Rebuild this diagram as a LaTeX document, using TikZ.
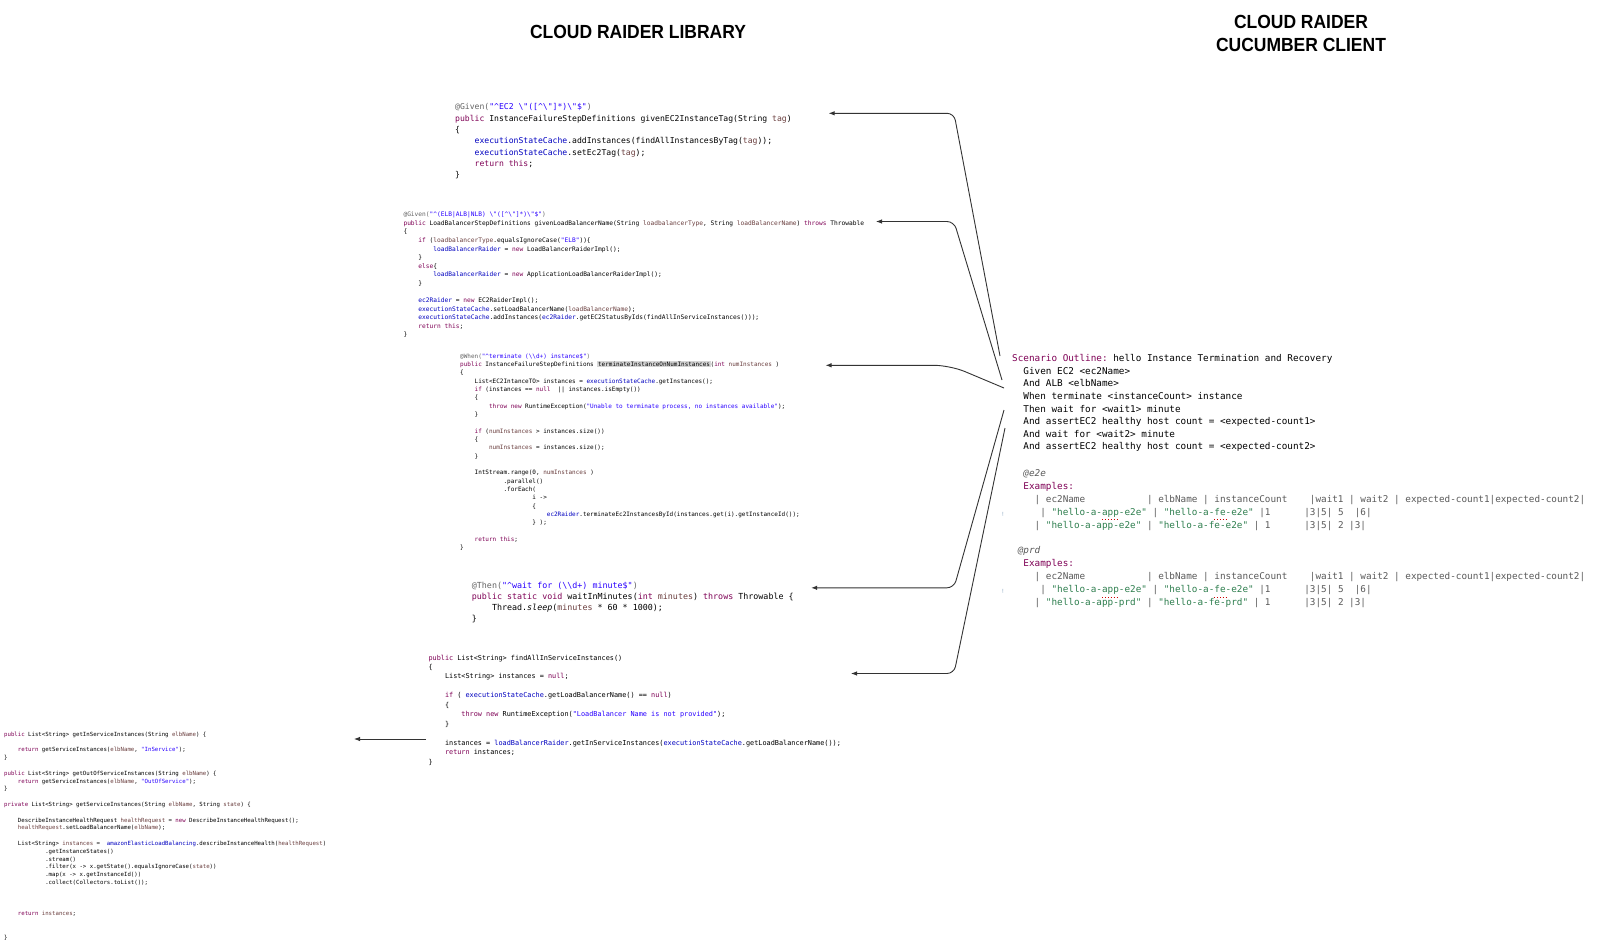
\documentclass[tikz,border=0pt]{standalone}
\usepackage{fontspec}
\setmainfont{Liberation Sans}
\setmonofont{DejaVu Sans Mono}
\usepackage{graphicx}
\usetikzlibrary{arrows.meta}
\definecolor{kwpurple}{HTML}{7F0055}
\definecolor{fldblue}{HTML}{0000C0}
\definecolor{strblue}{HTML}{2A00FF}
\definecolor{anngray}{HTML}{646464}
\definecolor{prmbrown}{HTML}{6A3E3E}
\definecolor{tblgray}{HTML}{5A5A5A}
\definecolor{tblgreen}{HTML}{2F7F4F}
\definecolor{hlgray}{HTML}{D6D6D6}
\definecolor{warnblue}{HTML}{8AA6C1}
\definecolor{linegray}{HTML}{333333}
\newcommand{\jkw}[1]{\textcolor{kwpurple}{#1}}
\newcommand{\jfld}[1]{\textcolor{fldblue}{#1}}
\newcommand{\jstr}[1]{\textcolor{strblue}{#1}}
\newcommand{\jann}[1]{\textcolor{anngray}{#1}}
\newcommand{\jprm}[1]{\textcolor{prmbrown}{#1}}
\newcommand{\jqs}[1]{\textcolor{tblgreen}{#1}}
\newcommand{\jhl}[1]{{\setlength{\fboxsep}{0.6pt}\colorbox{hlgray}{#1}}}
\newcommand{\jind}[1]{\hspace*{#1\fontcharwd\font`x}}
\newcommand{\jrx}{\textasciicircum}
\newcommand{\jbs}{\textbackslash}

\begin{document}
\begin{tikzpicture}[x=1pt,y=-1pt,>=Latex,
  code/.style={anchor=north west,inner sep=0pt,align=left,execute at begin node=\strut},
  ttl/.style={inner sep=0pt,align=center,font=\fontsize{19}{22.5}\selectfont\bfseries},
  arr/.style={-{Latex[length=6pt,width=4.5pt]},line width=0.9pt,draw=linegray,rounded corners=7pt},
  squig/.style={draw=red!80!black,line width=0.9pt,dotted}]
\useasboundingbox[fill=white] (0,0) rectangle (1600,943);

% titles
\node[ttl] (tlib) at (638,31.6) {\scalebox{0.92}[1]{CLOUD RAIDER LIBRARY}};
\node[ttl] (tcli) at (1301,33.6) {\scalebox{0.92}[1]{CLOUD RAIDER}\\\scalebox{0.92}[1]{CUCUMBER CLIENT}};

% library code
\node[code,font=\fontsize{8.1}{11.3}\selectfont\ttfamily] (given1) at (455,103.5)
  {\jann{@Given(}\jstr{"\jrx EC2 \jbs"([\jrx\jbs"]*)\jbs"\$"}\jann{)}\\
   \jkw{public} InstanceFailureStepDefinitions givenEC2InstanceTag(String \jprm{tag})\\
   \{\\
   \jind{4}\jfld{executionStateCache}.addInstances(findAllInstancesByTag(\jprm{tag}));\\
   \jind{4}\jfld{executionStateCache}.setEc2Tag(\jprm{tag});\\
   \jind{4}\jkw{return this};\\
   \}};

\node[code,font=\fontsize{6.22}{8.57}\selectfont\ttfamily] (given2) at (403.3,211.8)
  {\jann{@Given(}\jstr{"\jrx(ELB|ALB|NLB) \jbs"([\jrx\jbs"]*)\jbs"\$"}\jann{)}\\
   \jkw{public} LoadBalancerStepDefinitions givenLoadBalancerName(String \jprm{loadbalancerType}, String \jprm{loadBalancerName}) \jkw{throws} Throwable\\
   \{\\
   \jind{4}\jkw{if} (\jprm{loadbalancerType}.equalsIgnoreCase(\jstr{"ELB"}))\{\\
   \jind{8}\jfld{loadBalancerRaider} = \jkw{new} LoadBalancerRaiderImpl();\\
   \jind{4}\}\\
   \jind{4}\jkw{else}\{\\
   \jind{8}\jfld{loadBalancerRaider} = \jkw{new} ApplicationLoadBalancerRaiderImpl();\\
   \jind{4}\}\\
   \\
   \jind{4}\jfld{ec2Raider} = \jkw{new} EC2RaiderImpl();\\
   \jind{4}\jfld{executionStateCache}.setLoadBalancerName(\jprm{loadBalancerName});\\
   \jind{4}\jfld{executionStateCache}.addInstances(\jfld{ec2Raider}.getEC2StatusByIds(findAllInServiceInstances()));\\
   \jind{4}\jkw{return this};\\
   \}};

\node[code,font=\fontsize{6.0}{8.33}\selectfont\ttfamily] (when1) at (460,353.5)
  {\jann{@When(}\jstr{"\jrx terminate (\jbs\jbs d+) instance\$"}\jann{)}\\
   \jkw{public} InstanceFailureStepDefinitions \jhl{terminateInstanceOnNumInstances}(\jkw{int} \jprm{numInstances} )\\
   \{\\
   \jind{4}List<EC2IntanceTO> instances = \jfld{executionStateCache}.getInstances();\\
   \jind{4}\jkw{if} (instances == \jkw{null}\jind{2}|| instances.isEmpty())\\
   \jind{4}\{\\
   \jind{8}\jkw{throw new} RuntimeException(\jstr{"Unable to terminate process, no instances available"});\\
   \jind{4}\}\\
   \\
   \jind{4}\jkw{if} (\jprm{numInstances} > instances.size())\\
   \jind{4}\{\\
   \jind{8}\jprm{numInstances} = instances.size();\\
   \jind{4}\}\\
   \\
   \jind{4}IntStream.range(0, \jprm{numInstances} )\\
   \jind{12}.parallel()\\
   \jind{12}.forEach(\\
   \jind{20}i ->\\
   \jind{20}\{\\
   \jind{24}\jfld{ec2Raider}.terminateEc2InstancesById(instances.get(i).getInstanceId());\\
   \jind{20}\} );\\
   \\
   \jind{4}\jkw{return this};\\
   \}};

\node[code,font=\fontsize{8.35}{11.2}\selectfont\ttfamily] (then1) at (471.7,581.6)
  {\jann{@Then(}\jstr{"\jrx wait for (\jbs\jbs d+) minute\$"}\jann{)}\\
   \jkw{public static void} waitInMinutes(\jkw{int} \jprm{minutes}) \jkw{throws} Throwable \{\\
   \jind{4}Thread.\textit{sleep}(\jprm{minutes} * 60 * 1000);\\
   \}};

\node[code,font=\fontsize{6.85}{9.47}\selectfont\ttfamily] (findall) at (428.3,654.6)
  {\jkw{public} List<String> findAllInServiceInstances()\\
   \{\\
   \jind{4}List<String> instances = \jkw{null};\\
   \\
   \jind{4}\jkw{if} ( \jfld{executionStateCache}.getLoadBalancerName() == \jkw{null})\\
   \jind{4}\{\\
   \jind{8}\jkw{throw new} RuntimeException(\jstr{"LoadBalancer Name is not provided"});\\
   \jind{4}\}\\
   \\
   \jind{4}instances = \jfld{loadBalancerRaider}.getInServiceInstances(\jfld{executionStateCache}.getLoadBalancerName());\\
   \jind{4}\jkw{return} instances;\\
   \}};

\node[code,font=\fontsize{5.69}{7.8}\selectfont\ttfamily] (elbimpl) at (4,731.8)
  {\jkw{public} List<String> getInServiceInstances(String \jprm{elbName}) \{\\
   \\
   \jind{4}\jkw{return} getServiceInstances(\jprm{elbName}, \jstr{"InService"});\\
   \}\\
   \\
   \jkw{public} List<String> getOutOfServiceInstances(String \jprm{elbName}) \{\\
   \jind{4}\jkw{return} getServiceInstances(\jprm{elbName}, \jstr{"OutOfService"});\\
   \}\\
   \\
   \jkw{private} List<String> getServiceInstances(String \jprm{elbName}, String \jprm{state}) \{\\
   \\
   \jind{4}DescribeInstanceHealthRequest \jprm{healthRequest} = \jkw{new} DescribeInstanceHealthRequest();\\
   \jind{4}\jprm{healthRequest}.setLoadBalancerName(\jprm{elbName});\\
   \\
   \jind{4}List<String> \jprm{instances} =\jind{2}\jfld{amazonElasticLoadBalancing}.describeInstanceHealth(\jprm{healthRequest})\\
   \jind{12}.getInstanceStates()\\
   \jind{12}.stream()\\
   \jind{12}.filter(x -> x.getState().equalsIgnoreCase(\jprm{state}))\\
   \jind{12}.map(x -> x.getInstanceId())\\
   \jind{12}.collect(Collectors.toList());\\
   \\
   \\
   \\
   \jind{4}\jkw{return} \jprm{instances};\\
   \\
   \\
   \}};

% cucumber client
\node[code,font=\fontsize{9.33}{12.6}\selectfont\ttfamily] (scen) at (1012,354.3)
  {\jkw{Scenario Outline:} hello Instance Termination and Recovery\\
   \jind{2}Given EC2 <ec2Name>\\
   \jind{2}And ALB <elbName>\\
   \jind{2}When terminate <instanceCount> instance\\
   \jind{2}Then wait for <wait1> minute\\
   \jind{2}And assertEC2 healthy host count = <expected-count1>\\
   \jind{2}And wait for <wait2> minute\\
   \jind{2}And assertEC2 healthy host count = <expected-count2>};

\node[code,text=tblgray,font=\fontsize{9.33}{12.9}\selectfont\ttfamily] (exe2e) at (1012,469.8)
  {\jind{2}\textit{@e2e}\\
   \jind{2}\jkw{Examples:}\\
   \jind{4}| ec2Name\jind{11}| elbName | instanceCount\jind{4}|wait1 | wait2 | expected-count1|expected-count2|\\
   \jind{5}| \jqs{"hello-a-app-e2e"} | \jqs{"hello-a-fe-e2e"} |1\jind{6}|3|5| 5\jind{2}|6|\\
   \jind{4}| \jqs{"hello-a-app-e2e"} | \jqs{"hello-a-fe-e2e"} | 1\jind{6}|3|5| 2 |3|};

\node[code,text=tblgray,font=\fontsize{9.33}{12.9}\selectfont\ttfamily] (exprd) at (1012,546.3)
  {\jind{1}\textit{@prd}\\
   \jind{2}\jkw{Examples:}\\
   \jind{4}| ec2Name\jind{11}| elbName | instanceCount\jind{4}|wait1 | wait2 | expected-count1|expected-count2|\\
   \jind{5}| \jqs{"hello-a-app-e2e"} | \jqs{"hello-a-fe-e2e"} |1\jind{6}|3|5| 5\jind{2}|6|\\
   \jind{4}| \jqs{"hello-a-app-prd"} | \jqs{"hello-a-fe-prd"} | 1\jind{6}|3|5| 2 |3|};

\node[inner sep=0pt,text=warnblue,font=\fontsize{6}{7}\selectfont] (warn1) at (1003,514) {!};
\node[inner sep=0pt,text=warnblue,font=\fontsize{6}{7}\selectfont] (warn2) at (1003,591.5) {!};

% spell-check marks
\draw[squig] (1102,519.5) -- (1119,519.5);
\draw[squig] (1214,519.5) -- (1226,519.5);
\draw[squig] (1102,597) -- (1119,597);
\draw[squig] (1214,597) -- (1226,597);

% connectors
\coordinate (s1) at (1000,356);
\coordinate (s2) at (1002,380);
\coordinate (s3) at (1004,388);
\coordinate (s4) at (1004,410);
\coordinate (s5) at (1005,428);
\coordinate (k1) at (954,113.3);
\coordinate (k2) at (954,221.5);
\coordinate (k3) at (950,365.3);
\coordinate (k4) at (954,587.8);
\coordinate (k5) at (954,673.5);
\coordinate (t1) at (828.6,113.3);
\coordinate (t2) at (876,221.5);
\coordinate (t3) at (825.5,365.3);
\coordinate (t4) at (811.2,587.8);
\coordinate (t5) at (851,673.5);
\draw[arr] (s1) -- (k1) -- (t1);
\draw[arr] (s2) -- (k2) -- (t2);
\draw[arr,rounded corners=16pt] (s3) -- (k3) -- (t3);
\draw[arr] (s4) -- (k4) -- (t4);
\draw[arr] (s5) -- (k5) -- (t5);
\coordinate (u1) at (426,739);
\coordinate (u2) at (354,739);
\draw[arr] (u1) -- (u2);
\end{tikzpicture}
\end{document}
